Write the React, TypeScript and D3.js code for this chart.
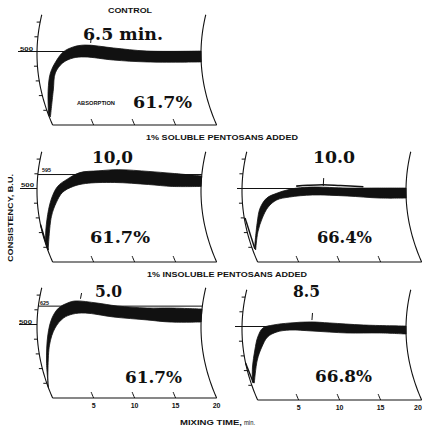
import React from "react";
import * as d3 from "d3";

// ---------- data ----------
const BU_TICKS = [100, 200, 300, 400, 500, 600, 700];
const TIME_TICKS = [5, 10, 15];
const TIME_LABELS = [5, 10, 15, 20];

// Control, absorption 61.7 %
const ctrlUpperT = [0, 0.87, 1.5, 2.4, 3.2, 4.4, 5.85, 9.3, 13.4, 20];
const ctrlUpperBU = [68, 238, 354, 442, 497, 531, 544, 524, 503, 503];
const ctrlLowerT = [0.13, 1.5, 2.1, 3.1, 4.4, 5.85, 9.3, 13.4, 20];
const ctrlLowerBU = [54, 238, 354, 422, 456, 463, 442, 429, 429];

// 1% soluble pentosans, 61.7 %
const sol617UpperT = [0, 0.16, 0.9, 1.7, 2.5, 3.6, 5.1, 7.3, 9.8, 13.5, 16.4, 20];
const sol617UpperBU = [82, 151, 288, 425, 514, 562, 608, 620, 628, 616, 603, 585];
const sol617LowerT = [0.05, 1.5, 2.3, 3.1, 4.4, 5.9, 9.4, 13.6, 16.5, 20];
const sol617LowerBU = [82, 308, 404, 473, 514, 534, 541, 527, 514, 514];
const sol617TailT = [0, 0.05];
const sol617TailBU = [255, 82];

// 1% soluble pentosans, 66.4 %
const sol664UpperT = [0.3, 1.5, 2.1, 3.0, 4.3, 5.5, 6.7, 8.7, 12.8, 16.8, 20];
const sol664UpperBU = [95, 272, 367, 435, 469, 490, 503, 510, 503, 503, 503];
const sol664LowerT = [0.35, 1.3, 2.2, 3.1, 4.2, 5.8, 8.6, 12.8, 16.8, 20];
const sol664LowerBU = [82, 204, 299, 374, 422, 442, 456, 449, 435, 435];
const sol664TailT = [0.1, 0.3];
const sol664TailBU = [299, 90];
const sol664FuzzT = [6.6, 8, 9.9, 12, 14.8];
const sol664FuzzBU = [516, 522, 526, 520, 512];

// 1% insoluble pentosans, 61.7 %
const ins617UpperT = [0, 0.7, 1.3, 1.8, 2.5, 3.5, 4.4, 7.1, 9.6, 13.3, 16.1, 20];
const ins617UpperBU = [68, 245, 429, 544, 612, 646, 660, 646, 626, 612, 612, 605];
const ins617LowerT = [0.05, 1.4, 2.2, 3.2, 4.3, 5.8, 9.3, 13.4, 16.2, 20];
const ins617LowerBU = [88, 360, 476, 544, 571, 578, 551, 531, 517, 517];

// 1% insoluble pentosans, 66.8 %
const ins668UpperT = [0.2, 0.73, 1.4, 1.9, 2.55, 3.8, 5.85, 8.3, 10.7, 14.8, 20];
const ins668UpperBU = [122, 224, 340, 429, 490, 510, 524, 531, 524, 510, 503];
const ins668LowerT = [0.4, 1.5, 2.3, 3.1, 4.25, 5.85, 8.65, 12.8, 16.8, 20];
const ins668LowerBU = [116, 272, 361, 429, 463, 476, 469, 456, 456, 449];
const ins668TailT = [0, 0.3];
const ins668TailBU = [252, 116];

// ---------- geometry ----------
const PX_PER_BU = 0.147;
const PX_PER_MIN = 8.2;
const CURV = 0.0031;
const INK = "#111";
const W = 423;
const H = 434;

type P = [number, number];

function makeProj(x0: number, bottom: number) {
  const xs = d3.scaleLinear().domain([0, 20]).range([x0, x0 + 20 * PX_PER_MIN]);
  const ys = d3.scaleLinear().domain([0, 700]).range([bottom, bottom - 700 * PX_PER_BU]);
  const ym = bottom - 71;
  return (t: number, bu: number): P => {
    const y = ys(bu);
    return [xs(t) + CURV * (y - ym) * (y - ym), y];
  };
}

const smooth = d3.line<P>().curve(d3.curveCatmullRom.alpha(0.5));
const straight = d3.line<P>();

type PanelCfg = {
  x0: number;
  bottom: number;
  upperT: number[];
  upperBU: number[];
  lowerT: number[];
  lowerBU: number[];
  tailT?: number[];
  tailBU?: number[];
  fuzzT?: number[];
  fuzzBU?: number[];
  arrowT?: number;
  arrowBU?: [number, number];
  refBU?: number;
  refStartX?: number;
  refFromArc?: boolean;
  underline500?: number;
  showTimeLabels?: boolean;
};

function Panel({ c }: { c: PanelCfg }) {
  const p = makeProj(c.x0, c.bottom);
  const arcBU = d3.range(0, 751, 10);
  const leftArc = arcBU.map((b) => p(0, b));
  const rightArc = arcBU.map((b) => p(20, b));
  const up = c.upperT.map((t, i) => p(t, c.upperBU[i]));
  const lo = c.lowerT.map((t, i) => p(t, c.lowerBU[i])).reverse();
  const band = (smooth(up) || "") + (smooth(lo) || "").replace(/^M/, "L") + "Z";
  const left500 = p(0, 500);
  return (
    <g>
      <path d={straight(leftArc) || ""} fill="none" stroke={INK} strokeWidth={1.1} />
      <path d={straight(rightArc) || ""} fill="none" stroke={INK} strokeWidth={1.1} />
      <path d={straight([p(0, 0), p(20, 0)]) || ""} fill="none" stroke={INK} strokeWidth={1.1} />
      {BU_TICKS.map((b) => {
        const a = p(0, b);
        return <line key={b} x1={a[0]} y1={a[1]} x2={a[0] - 3.5} y2={a[1]} stroke={INK} strokeWidth={1} />;
      })}
      {TIME_TICKS.map((t) => (
        <path key={t} d={straight(d3.range(0, 41, 10).map((b) => p(t, b))) || ""} fill="none" stroke={INK} strokeWidth={1} />
      ))}
      {c.showTimeLabels &&
        TIME_LABELS.map((t) => {
          const a = p(t, 0);
          return (
            <text key={t} x={Math.min(a[0], W - 5)} y={c.bottom + 10} textAnchor="middle" fontFamily="Liberation Sans" fontWeight="bold" fontSize={7} fill={INK}>
              {t}
            </text>
          );
        })}
      {c.underline500 !== undefined && (
        <line x1={c.underline500} y1={left500[1]} x2={left500[0]} y2={left500[1]} stroke={INK} strokeWidth={1} />
      )}
      {c.refBU !== undefined && (() => {
        const a = p(0, c.refBU);
        const b = p(20, c.refBU);
        const sx = c.refFromArc ? a[0] : (c.refStartX as number);
        return <line x1={sx} y1={a[1]} x2={b[0]} y2={a[1]} stroke={INK} strokeWidth={1} />;
      })()}
      <path d={band} fill={INK} stroke={INK} strokeWidth={0.8} strokeLinejoin="round" />
      {c.tailT && c.tailBU && (
        <path d={straight(c.tailT.map((t, i) => p(t, c.tailBU![i]))) || ""} fill="none" stroke={INK} strokeWidth={1.4} />
      )}
      {c.fuzzT && c.fuzzBU && (
        <path d={smooth(c.fuzzT.map((t, i) => p(t, c.fuzzBU![i]))) || ""} fill="none" stroke={INK} strokeWidth={1.6} />
      )}
      {c.arrowT !== undefined && c.arrowBU && (() => {
        const a = p(c.arrowT, c.arrowBU[1]);
        const b = p(c.arrowT, c.arrowBU[0]);
        return <line x1={a[0]} y1={a[1]} x2={b[0]} y2={b[1]} stroke={INK} strokeWidth={1} />;
      })()}
    </g>
  );
}

const panels: PanelCfg[] = [
  {
    x0: 37, bottom: 125,
    upperT: ctrlUpperT, upperBU: ctrlUpperBU, lowerT: ctrlLowerT, lowerBU: ctrlLowerBU,
    arrowT: 6.5, arrowBU: [558, 592], refBU: 500, refStartX: 18,
  },
  {
    x0: 37, bottom: 262,
    upperT: sol617UpperT, upperBU: sol617UpperBU, lowerT: sol617LowerT, lowerBU: sol617LowerBU,
    tailT: sol617TailT, tailBU: sol617TailBU, refBU: 595, refFromArc: true, underline500: 20,
  },
  {
    x0: 242, bottom: 262,
    upperT: sol664UpperT, upperBU: sol664UpperBU, lowerT: sol664LowerT, lowerBU: sol664LowerBU,
    tailT: sol664TailT, tailBU: sol664TailBU, fuzzT: sol664FuzzT, fuzzBU: sol664FuzzBU,
    arrowT: 9.9, arrowBU: [517, 571], refBU: 500, refStartX: 237,
  },
  {
    x0: 37, bottom: 398,
    upperT: ins617UpperT, upperBU: ins617UpperBU, lowerT: ins617LowerT, lowerBU: ins617LowerBU,
    arrowT: 5.0, arrowBU: [675, 714], refBU: 625, refFromArc: true, underline500: 19, showTimeLabels: true,
  },
  {
    x0: 242, bottom: 400,
    upperT: ins668UpperT, upperBU: ins668UpperBU, lowerT: ins668LowerT, lowerBU: ins668LowerBU,
    tailT: ins668TailT, tailBU: ins668TailBU,
    arrowT: 8.5, arrowBU: [544, 592], refBU: 500, refStartX: 235, showTimeLabels: true,
  },
];

const SERIF = "DejaVu Serif";
const SANS = "Liberation Sans";

function Big({ x, y, len, children }: { x: number; y: number; len: number; children: string }) {
  return (
    <text x={x} y={y} fontFamily={SERIF} fontWeight="bold" fontSize={16} textLength={len} lengthAdjust="spacingAndGlyphs" fill={INK}>
      {children}
    </text>
  );
}

function Small({ x, y, len, size, children }: { x: number; y: number; len: number; size: number; children: string }) {
  return (
    <text x={x} y={y} fontFamily={SANS} fontWeight="bold" fontSize={size} textLength={len} lengthAdjust="spacingAndGlyphs" fill={INK}>
      {children}
    </text>
  );
}

export default function App() {
  return (
    <svg width={W} height={H} style={{ position: "absolute", left: 0, top: 0, background: "#fff" }}>
      <rect width={W} height={H} fill="#fff" />
      {panels.map((c, i) => (
        <Panel key={i} c={c} />
      ))}
      {/* headings */}
      <Small x={108} y={13} len={44} size={8}>CONTROL</Small>
      <Small x={146} y={140} len={152} size={7.5}>1% SOLUBLE PENTOSANS ADDED</Small>
      <Small x={147} y={277} len={160} size={7.5}>1% INSOLUBLE PENTOSANS ADDED</Small>
      <Small x={180} y={425} len={62} size={7.5}>MIXING TIME,</Small>
      <text x={244} y={425} fontFamily={SANS} fontSize={7} textLength={11} lengthAdjust="spacingAndGlyphs" fill={INK}>min.</text>
      <text transform="translate(13,218) rotate(-90)" textAnchor="middle" fontFamily={SANS} fontWeight="bold" fontSize={7.5} textLength={88} lengthAdjust="spacingAndGlyphs" fill={INK}>
        CONSISTENCY, B.U.
      </text>
      <Small x={77} y={105} len={38} size={6}>ABSORPTION</Small>
      {/* BU labels */}
      <Small x={20} y={50.5} len={13} size={6}>500</Small>
      <Small x={21} y={186.5} len={13} size={6}>500</Small>
      <Small x={42} y={172} len={9} size={5}>595</Small>
      <Small x={19} y={323.5} len={13} size={6}>500</Small>
      <Small x={40} y={304.5} len={9} size={5}>625</Small>
      {/* large annotations */}
      <Big x={83} y={40} len={80}>6.5 min.</Big>
      <Big x={133} y={108} len={59}>61.7%</Big>
      <Big x={92} y={163} len={41}>10,0</Big>
      <Big x={90} y={243} len={60}>61.7%</Big>
      <Big x={313} y={163} len={42}>10.0</Big>
      <Big x={317} y={243} len={55}>66.4%</Big>
      <Big x={95} y={297} len={27}>5.0</Big>
      <Big x={125} y={383} len={57}>61.7%</Big>
      <Big x={293} y={297} len={27}>8.5</Big>
      <Big x={315} y={382} len={57}>66.8%</Big>
    </svg>
  );
}
